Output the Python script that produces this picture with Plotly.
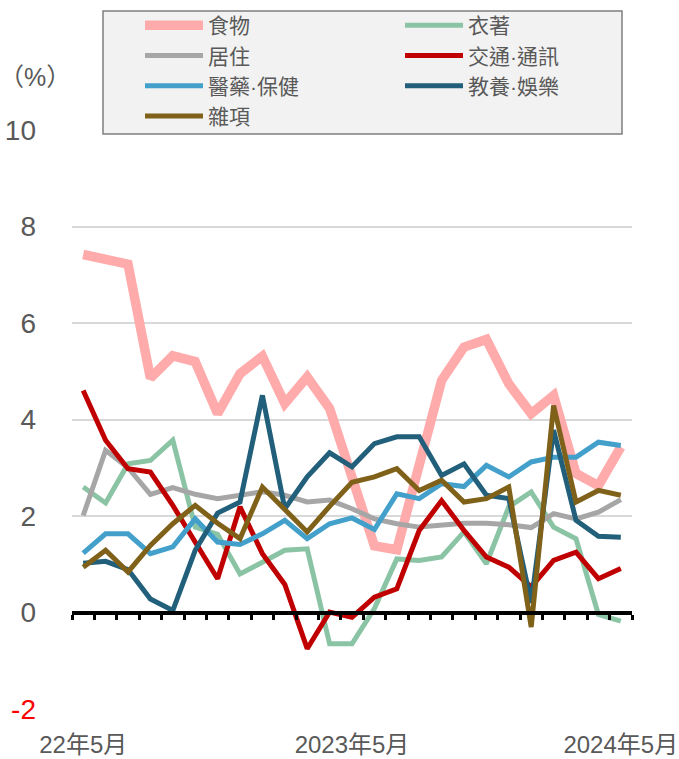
import plotly.graph_objects as go

months = ["2022年5月", "2022年6月", "2022年7月", "2022年8月", "2022年9月", "2022年10月",
          "2022年11月", "2022年12月", "2023年1月", "2023年2月", "2023年3月", "2023年4月",
          "2023年5月", "2023年6月", "2023年7月", "2023年8月", "2023年9月", "2023年10月",
          "2023年11月", "2023年12月", "2024年1月", "2024年2月", "2024年3月", "2024年4月",
          "2024年5月"]

food = [7.42, 7.33, 7.22, 4.86, 5.32, 5.20, 4.12, 4.95, 5.31, 4.33, 4.88, 4.23,
        2.78, 1.38, 1.30, 3.15, 4.81, 5.50, 5.66, 4.74, 4.12, 4.50, 2.88, 2.63, 3.43]
clothing = [2.60, 2.27, 3.08, 3.15, 3.57, 1.77, 1.62, 0.80, 1.04, 1.29, 1.32, -0.65,
            -0.65, 0.08, 1.11, 1.08, 1.15, 1.67, 1.01, 2.19, 2.50, 1.77, 1.53, -0.04, -0.18]
housing = [2.01, 3.36, 3.00, 2.45, 2.59, 2.45, 2.36, 2.43, 2.50, 2.43, 2.29, 2.33,
           2.15, 1.94, 1.84, 1.77, 1.82, 1.85, 1.85, 1.82, 1.76, 2.05, 1.94, 2.08, 2.34]
transport = [4.60, 3.57, 2.98, 2.91, 2.22, 1.47, 0.70, 2.19, 1.22, 0.58, -0.75, 0.01,
             -0.10, 0.32, 0.49, 1.70, 2.32, 1.70, 1.15, 0.94, 0.53, 1.08, 1.25, 0.70, 0.91]
medical = [1.23, 1.63, 1.63, 1.22, 1.36, 1.94, 1.46, 1.41, 1.63, 1.91, 1.53, 1.84,
           1.96, 1.72, 2.46, 2.36, 2.67, 2.61, 3.05, 2.81, 3.12, 3.22, 3.22, 3.53, 3.46]
education = [1.02, 1.06, 0.89, 0.28, 0.04, 1.29, 2.06, 2.29, 4.50, 2.15, 2.81, 3.31,
             3.02, 3.50, 3.64, 3.64, 2.84, 3.08, 2.43, 2.36, 0.20, 3.78, 1.91, 1.58, 1.56]
misc = [0.94, 1.29, 0.84, 1.39, 1.84, 2.22, 1.85, 1.53, 2.60, 2.12, 1.67, 2.20,
        2.70, 2.81, 2.98, 2.53, 2.74, 2.29, 2.36, 2.60, -0.30, 4.29, 2.29, 2.53, 2.43]

series_names = ["食物", "衣著", "居住", "交通·通訊", "醫藥·保健", "教養·娛樂", "雜項"]
series_values = [food, clothing, housing, transport, medical, education, misc]
series_colors = ["#FFABAB", "#8AC4A5", "#A6A6A6", "#C00000", "#43A0CB", "#215F7A", "#7F6119"]
series_widths = [9.5, 5, 5, 5, 5, 5, 5]
series_legend = ["legend", "legend2", "legend", "legend2", "legend", "legend2", "legend"]

x_tick_idx = [0, 12, 24]
x_tick_text = ["22年5月", "2023年5月", "2024年5月"]
y_ticks = [-2, 0, 2, 4, 6, 8, 10]

FONT = "Liberation Sans, Arial, Noto Sans CJK TC, sans-serif"
GREY = "#595959"

xs = list(range(len(months)))

fig = go.Figure()
for name, vals, col, w, lg in zip(series_names, series_values, series_colors,
                                  series_widths, series_legend):
    fig.add_trace(go.Scatter(x=xs, y=vals, mode="lines", name=name, legend=lg,
                             line=dict(color=col, width=w), hovertext=months))

# carrier trace for the zero axis with boundary ticks
fig.add_trace(go.Scatter(x=[], y=[], xaxis="x2", yaxis="y", showlegend=False, hoverinfo="skip"))

y_text = [f"<span style='color:#FF0000'>{v}</span>" if v < 0 else str(v) for v in y_ticks]

W, H = 679, 759
L, R, T, B = 72, 47, 130, 50
pw, ph = W - L - R, H - T - B

def px_x(p):
    return (p - L) / pw

def px_y(p):
    return (H - B - p) / ph

legend_common = dict(orientation="v", xanchor="left", yanchor="top",
                     bgcolor="rgba(0,0,0,0)", borderwidth=0, itemwidth=58,
                     font=dict(size=21, color=GREY, family=FONT), traceorder="normal")

fig.update_layout(
    width=W, height=H,
    margin=dict(l=L, r=R, t=T, b=B, autoexpand=False),
    paper_bgcolor="white", plot_bgcolor="white",
    font=dict(family=FONT, color=GREY),
    xaxis=dict(range=[-0.5, len(months) - 0.5], tickmode="array", tickvals=x_tick_idx,
               ticktext=x_tick_text, showgrid=False, zeroline=False, showline=False,
               ticks="", tickfont=dict(size=24, color=GREY), ticklabelstandoff=19),
    xaxis2=dict(overlaying="x", anchor="free", position=2 / 12,
                range=[-0.5, len(months) - 0.5], tickmode="linear", tick0=-0.5, dtick=1,
                showline=True, linecolor="black", linewidth=4, ticks="outside",
                ticklen=5, tickwidth=3, tickcolor="black", showticklabels=False,
                showgrid=False, zeroline=False),
    yaxis=dict(range=[-2, 10], tickmode="array", tickvals=y_ticks, ticktext=y_text,
               showgrid=True, gridcolor="#D9D9D9", gridwidth=1.5, zeroline=False,
               showline=False, ticks="", tickfont=dict(size=28, color=GREY),
               ticklabelstandoff=35),
    showlegend=True,
    legend=dict(x=px_x(140), y=px_y(5), **legend_common),
    legend2=dict(x=px_x(400), y=px_y(5), **legend_common),
    shapes=[dict(type="rect", xref="paper", yref="paper",
                 x0=px_x(103), x1=px_x(622), y0=px_y(134), y1=px_y(11),
                 fillcolor="#F2F2F2", line=dict(color="#7F7F7F", width=1.5), layer="above")],
    annotations=[dict(text="（%）", xref="paper", yref="paper", x=px_x(35), y=px_y(77),
                      xanchor="center", yanchor="middle", showarrow=False,
                      font=dict(size=25, color=GREY, family=FONT))],
)

fig.write_html("out.html", config={"displayModeBar": False},
               post_script="document.body.style.margin='0px';")
